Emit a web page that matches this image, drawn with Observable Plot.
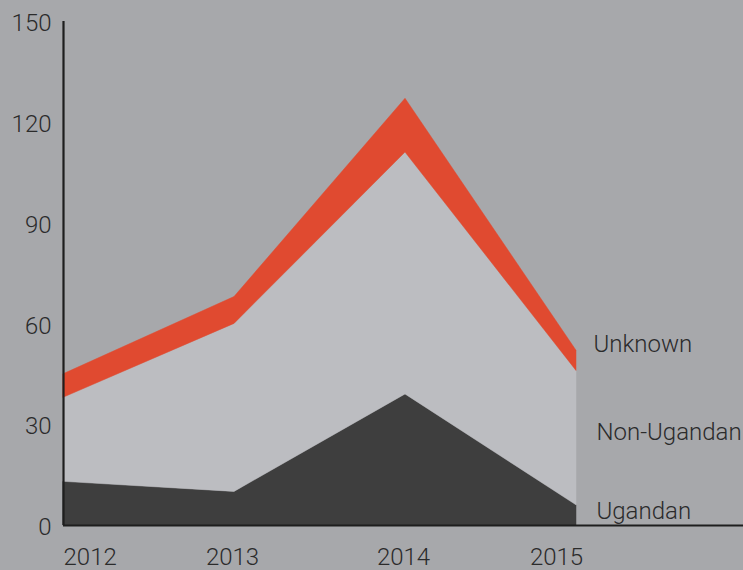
<!DOCTYPE html>
<html><head><meta charset="utf-8">
<script src="https://cdn.jsdelivr.net/npm/d3@7"></script>
<script src="https://cdn.jsdelivr.net/npm/@observablehq/plot@0.6"></script>
<style>
html,body{margin:0;padding:0;background:#a7a8ab;}
#chart svg{display:block;}
</style>
</head><body><div id="chart"></div>
<script>
const years = [2012, 2013, 2014, 2015];
const categories = ["Ugandan", "Non-Ugandan", "Unknown"];
const ugandan = [13, 10, 39, 6];
const nonUgandan = [25, 50, 72, 40];
const unknown = [7, 8, 16, 6];
const yTicks = [0, 30, 60, 90, 120, 150];
const colors = ["#3e3e3e", "#bcbdc1", "#e04a30"];

const series = [ugandan, nonUgandan, unknown];
const rows = [];
categories.forEach((c, i) => years.forEach((y, j) => rows.push({year: y, cat: c, value: series[i][j]})));

// label positions derived from stacked values at the last year
const last = years.length - 1;
const labels = categories.map((c, i) => {
  const below = series.slice(0, i).reduce((s, a) => s + a[last], 0);
  return {cat: c, year: years[last], lo: below, hi: below + series[i][last]};
});

const font = {fontFamily: "Roboto, 'DejaVu Sans', sans-serif", fontSize: 24, fontWeight: 300, fill: "#2b2b2b"};

const chart = Plot.plot({
  width: 743,
  height: 570,
  marginLeft: 63,
  marginRight: 0,
  marginTop: 21,
  marginBottom: 45,
  style: {background: "#a7a8ab", fontFamily: font.fontFamily, fontSize: "24px", fontWeight: 300, color: "#2b2b2b", overflow: "visible"},
  x: {type: "linear", domain: [2012, 2015], range: [63, 576]},
  y: {domain: [0, 150]},
  color: {domain: categories, range: colors},
  marks: [
    Plot.areaY(rows, {x: "year", y: "value", z: "cat", fill: "cat", order: categories, curve: "linear", stroke: "cat", strokeWidth: 0.5}),
    Plot.axisY({ticks: yTicks, tickSize: 0, tickPadding: 12, dy: 2, ...font, label: null}),
    Plot.axisX({ticks: [years[0]], tickSize: 0, tickPadding: 22, textAnchor: "start", ...font, label: null, tickFormat: d => String(d)}),
    Plot.axisX({ticks: years.slice(1, 3), tickSize: 0, tickPadding: 22, dx: -2, ...font, label: null, tickFormat: d => String(d)}),
    Plot.axisX({ticks: [years[3]], tickSize: 0, tickPadding: 22, dx: -20, ...font, label: null, tickFormat: d => String(d)}),
    Plot.ruleX([years[0]], {y1: 0, y2: 150, stroke: "#1e1e1e", strokeWidth: 2.2}),
    Plot.ruleY([0], {stroke: "#1e1e1e", strokeWidth: 2.2}),
    Plot.text(labels.filter(d => d.cat === "Unknown"), {x: "year", y: "hi", text: "cat", textAnchor: "start", dx: 17, dy: -6, ...font}),
    Plot.text(labels.filter(d => d.cat === "Non-Ugandan"), {x: "year", y: d => (d.lo + d.hi) / 2, text: "cat", textAnchor: "start", dx: 20, dy: -6, ...font}),
    Plot.text(labels.filter(d => d.cat === "Ugandan"), {x: "year", y: d => (d.lo + d.hi) / 2, text: "cat", textAnchor: "start", dx: 20, dy: -4, ...font})
  ]
});
document.getElementById("chart").appendChild(chart);
</script>
</body></html>
